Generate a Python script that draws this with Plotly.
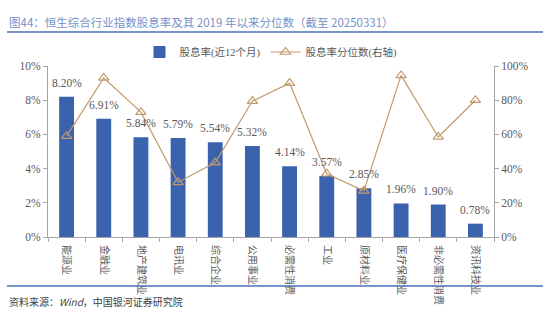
import plotly.graph_objects as go

categories = ["能源业", "金融业", "地产建筑业", "电讯业", "综合企业", "公用事业",
              "必需性消费", "工业", "原材料业", "医疗保健业", "非必需性消费", "资讯科技业"]
dividend_yield = [8.20, 6.91, 5.84, 5.79, 5.54, 5.32, 4.14, 3.57, 2.85, 1.96, 1.90, 0.78]
percentile = [59, 93, 73, 32, 43.5, 79.5, 90, 37, 27, 94.5, 58.5, 80]
left_ticks = [0, 2, 4, 6, 8, 10]
right_ticks = [0, 20, 40, 60, 80, 100]

BAR = "#3a62ad"
LINE = "#c49a6c"
GREY = "#595959"
AX = "#a6a6a6"
SERIF = "Liberation Serif, Noto Sans CJK SC"
CJK = "Noto Sans CJK SC"

# plot area in pixels
PL, PR, PT, PB = 48, 494, 66, 237


def px(x):
    return (x - PL) / (PR - PL)


def py(y):
    return (PB - y) / (PB - PT)


fig = go.Figure()
fig.add_trace(go.Bar(
    x=categories, y=dividend_yield, name="股息率(近12个月)",
    marker=dict(color=BAR, line=dict(width=0)), width=0.4,
))
fig.add_trace(go.Scatter(
    x=categories, y=percentile, name="股息率分位数(右轴)", yaxis="y2",
    mode="lines+markers",
    line=dict(color=LINE, width=1.2),
    marker=dict(symbol="triangle-up-open", size=9, color=LINE, line=dict(width=1.2, color=LINE)),
))

annotations = []
for c, v in zip(categories, dividend_yield):
    annotations.append(dict(x=c, y=v, xref="x", yref="y", text=f"{v:.2f}%",
                            showarrow=False, yshift=14,
                            font=dict(family=SERIF, size=11.5, color=GREY)))
annotations.append(dict(x=px(7), y=py(22), xref="paper", yref="paper",
                        xanchor="left", yanchor="middle", showarrow=False,
                        text="图44：恒生综合行业指数股息率及其 2019 年以来分位数（截至 20250331）",
                        font=dict(family=CJK, size=11.5, color="#7790c8")))
annotations.append(dict(x=px(7), y=py(301), xref="paper", yref="paper",
                        xanchor="left", yanchor="middle", showarrow=False,
                        text="资料来源：<i>Wind</i>，中国银河证券研究院",
                        font=dict(family=CJK, size=10, color="#404040")))

shapes = [
    dict(type="line", xref="paper", yref="paper", x0=px(7), x1=px(543),
         y0=py(32), y1=py(32), line=dict(color="#4a6fb5", width=1.5)),
    dict(type="line", xref="paper", yref="paper", x0=px(7), x1=px(543),
         y0=py(286), y1=py(286), line=dict(color="#4a6fb5", width=1.5)),
]

fig.update_layout(
    width=550, height=335,
    margin=dict(l=PL, r=550 - PR, t=PT, b=335 - PB, autoexpand=False),
    paper_bgcolor="white", plot_bgcolor="white",
    showlegend=True,
    legend=dict(orientation="h", x=0.5, xanchor="center", y=1 - 52 / 335, yref="container",
                yanchor="middle", font=dict(family=SERIF, size=10.5, color=GREY),
                itemwidth=30, bgcolor="rgba(0,0,0,0)"),
    xaxis=dict(tickangle=90, tickfont=dict(family=CJK, size=10, color=GREY),
               showline=True, linecolor=AX, linewidth=1, ticks="outside",
               tickson="boundaries", ticklen=4, tickcolor=AX, showgrid=False,
               ticklabelstandoff=5, range=[-0.5, 11.5]),
    yaxis=dict(range=[0, 10], tickvals=left_ticks, ticktext=[f"{t}%" for t in left_ticks],
               showline=True, linecolor=AX, ticks="outside", ticklen=4, tickcolor=AX,
               showgrid=False, zeroline=False,
               tickfont=dict(family=SERIF, size=11.5, color=GREY)),
    yaxis2=dict(range=[0, 100], tickvals=right_ticks, ticktext=[f"{t}%" for t in right_ticks],
                overlaying="y", side="right",
                showline=True, linecolor=AX, ticks="outside", ticklen=4, tickcolor=AX,
                showgrid=False, zeroline=False,
                tickfont=dict(family=SERIF, size=11.5, color=GREY)),
    annotations=annotations, shapes=shapes,
)

fig.write_html("out.html")
